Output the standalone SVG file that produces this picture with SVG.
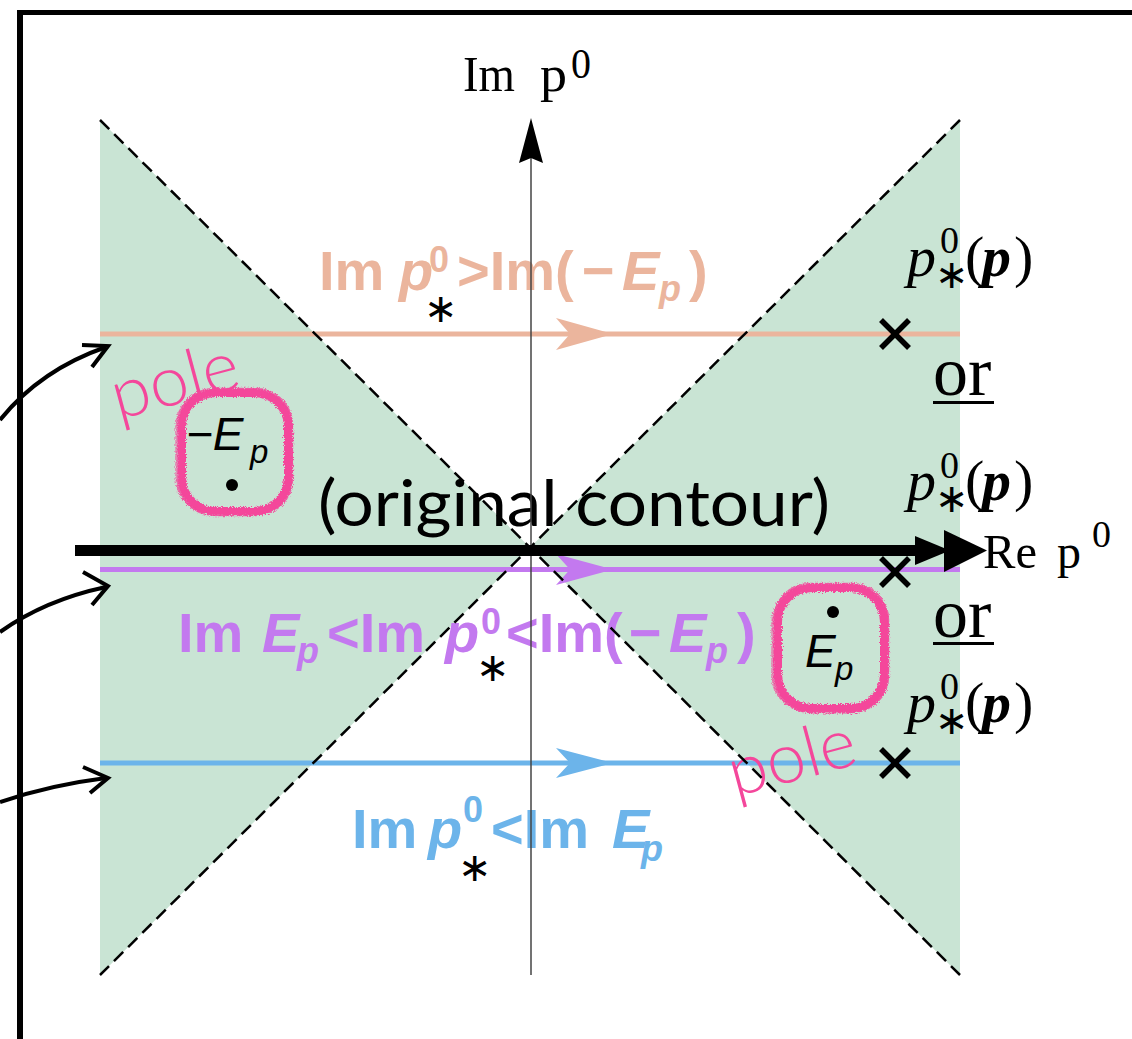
<svg xmlns="http://www.w3.org/2000/svg" width="1132" height="1039" viewBox="0 0 1132 1039">
<defs>
<style>
.serif{font-family:"Liberation Serif","Times New Roman",serif;fill:#000}
.lab{font-family:"Liberation Sans",Arial,sans-serif;font-weight:bold;font-size:56px}
.sup{font-family:"Liberation Sans",Arial,sans-serif;font-weight:bold;font-size:36px}
.it{font-style:italic}
.peach{fill:#ebb59d}
.purple{fill:#c379ef}
.blue{fill:#6cb4ea}
.ast{font-family:"DejaVu Sans",sans-serif;font-size:40px;fill:#000}
.human{font-family:Lato,"Open Sans",sans-serif}
.pole{font-family:Lato,"Open Sans",sans-serif;font-weight:300;font-size:70px;fill:#f4479b}
.dash{stroke:#000;stroke-width:2.5;stroke-dasharray:13 7;fill:none}
.cross{stroke:#000;stroke-width:5.5;stroke-linecap:butt}
.conn{stroke:#000;stroke-width:4;fill:none}
.ep{font-family:"Liberation Sans",Arial,sans-serif;font-style:italic;fill:#000}
</style>
<filter id="rough" x="-10%" y="-10%" width="120%" height="120%">
<feTurbulence type="fractalNoise" baseFrequency="0.9" numOctaves="2" seed="3" result="n"/>
<feDisplacementMap in="SourceGraphic" in2="n" scale="5" xChannelSelector="R" yChannelSelector="G"/>
</filter>
</defs>
<rect width="1132" height="1039" fill="#fff"/>
<!-- frame -->
<rect x="17" y="10" width="1115" height="5" fill="#000"/>
<rect x="17" y="10" width="6" height="1029" fill="#000"/>

<!-- shaded regions -->
<g id="regions">
<polygon points="100,120 530,547.5 100,975" fill="#c9e4d4"/>
<polygon points="960,120 530,547.5 960,975" fill="#c9e4d4"/>
</g>

<!-- contour lines -->
<g id="contours">
<line x1="100" y1="334" x2="960" y2="334" stroke="#ebb59d" stroke-width="5"/>
<path d="M556,318 L613,334 L556,350 L570,334 Z" fill="#ebb59d"/>
<line x1="100" y1="569.5" x2="960" y2="569.5" stroke="#c379ef" stroke-width="5"/>
<path d="M556,554 L613,569.5 L556,585 L570,569.5 Z" fill="#c379ef"/>
<line x1="100" y1="763" x2="960" y2="763" stroke="#6cb4ea" stroke-width="5"/>
<path d="M556,748 L613,763 L556,778 L570,763 Z" fill="#6cb4ea"/>
</g>

<!-- labels -->
<g id="label-peach">
<text class="lab peach" y="290"><tspan x="319">Im</tspan><tspan x="399" class="it">p</tspan><tspan x="457">&gt;Im(</tspan><tspan x="582">−</tspan><tspan x="622" class="it">E</tspan></text>
<text class="sup peach" x="429" y="272">0</text>
<text class="sup peach it" x="659" y="301">p</text>
<text class="lab peach" x="689" y="290">)</text>
<text class="ast" x="424" y="322">∗</text>
</g>
<g id="label-purple">
<text class="lab purple" y="652"><tspan x="178">Im</tspan><tspan x="262" class="it">E</tspan><tspan x="327">&lt;Im</tspan><tspan x="445" class="it">p</tspan><tspan x="506">&lt;Im(</tspan><tspan x="629">−</tspan><tspan x="669" class="it">E</tspan><tspan x="737">)</tspan></text>
<text class="sup purple it" x="297" y="663">p</text>
<text class="sup purple" x="481" y="634">0</text>
<text class="sup purple it" x="706" y="663">p</text>
<text class="ast" x="476" y="681">∗</text>
</g>
<g id="label-blue">
<text class="lab blue" y="848"><tspan x="352">Im</tspan><tspan x="428" class="it">p</tspan><tspan x="491">&lt;Im</tspan><tspan x="612" class="it">E</tspan></text>
<text class="sup blue" x="463" y="822">0</text>
<text class="sup blue it" x="641" y="861">p</text>
<text class="ast" x="458" y="881">∗</text>
</g>

<g id="label-original">
<text class="human" x="318" y="526" font-size="64" textLength="512" lengthAdjust="spacingAndGlyphs" fill="#000">(original contour)</text>
</g>

<!-- poles -->
<g id="pole-minus-E">
<g filter="url(#rough)" fill="none" stroke="#f4479b">
<rect x="182" y="393" width="106" height="118" rx="33" stroke-width="8"/>
<rect x="178" y="389" width="114" height="126" rx="36" stroke-width="2.5" opacity="0.8"/>
<rect x="185" y="396" width="100" height="112" rx="31" stroke-width="2" opacity="0.7"/>
<rect x="180" y="390" width="111" height="124" rx="39" stroke-width="3" opacity="0.7"/>
<rect x="176" y="391" width="116" height="122" rx="35" stroke-width="1.5" opacity="0.6"/>
</g>
<text class="ep" x="186" y="450" font-size="46">−E</text>
<text class="ep" x="250" y="463" font-size="33">p</text>
<circle cx="232" cy="485" r="6" fill="#000"/>
<text class="pole" transform="translate(118,420) rotate(-15)">pole</text>
</g>
<g id="pole-E">
<g filter="url(#rough)" fill="none" stroke="#f4479b">
<rect x="778" y="588" width="106" height="120" rx="33" stroke-width="8"/>
<rect x="774" y="584" width="114" height="128" rx="36" stroke-width="2.5" opacity="0.8"/>
<rect x="781" y="591" width="100" height="114" rx="31" stroke-width="2" opacity="0.7"/>
<rect x="776" y="585" width="111" height="127" rx="39" stroke-width="3" opacity="0.7"/>
<rect x="772" y="587" width="116" height="124" rx="35" stroke-width="1.5" opacity="0.6"/>
</g>
<text class="ep" x="805" y="667" font-size="46">E</text>
<text class="ep" x="835" y="680" font-size="33">p</text>
<circle cx="833" cy="612" r="6" fill="#000"/>
<text class="pole" transform="translate(735,797) rotate(-15)">pole</text>
</g>

<!-- boundary dashed lines -->
<g id="boundaries">
<line class="dash" x1="100" y1="120" x2="960" y2="975"/>
<line class="dash" x1="960" y1="120" x2="100" y2="975"/>
</g>

<!-- axes -->
<g id="axis-im">
<line x1="531" y1="975" x2="531" y2="158" stroke="#444" stroke-width="1.5"/>
<path d="M531,118 L543,163 L531,158 L519,163 Z" fill="#000"/>
<text class="serif" y="91" font-size="50"><tspan x="463" textLength="52" lengthAdjust="spacingAndGlyphs">Im</tspan><tspan x="540" textLength="27" lengthAdjust="spacingAndGlyphs">p</tspan></text>
<text class="serif" x="571" y="78" font-size="42" textLength="20" lengthAdjust="spacingAndGlyphs">0</text>
</g>
<g id="axis-re">
<line x1="75" y1="550.5" x2="930" y2="550.5" stroke="#000" stroke-width="11"/>
<path d="M915,536 L950,550.5 L915,565 Z" fill="#000"/>
<path d="M944,530 L987,550.5 L944,572 Z" fill="#000"/>
<text class="serif" y="568" font-size="48"><tspan x="983" textLength="54" lengthAdjust="spacingAndGlyphs">Re</tspan><tspan x="1057">p</tspan></text>
<text class="serif" x="1092" y="547" font-size="38">0</text>
</g>

<!-- p*0(p) markers -->
<g id="pstar-1">
<line class="cross" x1="881" y1="320" x2="909" y2="348"/><line class="cross" x1="909" y1="320" x2="881" y2="348"/>
<text class="serif" y="276" font-size="58"><tspan x="907" font-style="italic">p</tspan><tspan x="965">(</tspan><tspan x="982" font-weight="bold" font-style="italic">p</tspan><tspan x="1014">)</tspan></text>
<text class="serif" x="940" y="253" font-size="38">0</text>
<text class="ast" x="935" y="288" font-size="26">∗</text>
</g>
<g id="or-1">
<text class="serif" x="933" y="395" font-size="70">or</text>
<rect x="933" y="401" width="61" height="3" fill="#000"/>
</g>
<g id="pstar-2">
<line class="cross" x1="881" y1="558" x2="909" y2="586"/><line class="cross" x1="909" y1="558" x2="881" y2="586"/>
<text class="serif" y="500" font-size="58"><tspan x="907" font-style="italic">p</tspan><tspan x="965">(</tspan><tspan x="982" font-weight="bold" font-style="italic">p</tspan><tspan x="1014">)</tspan></text>
<text class="serif" x="940" y="478" font-size="38">0</text>
<text class="ast" x="935" y="512" font-size="26">∗</text>
</g>
<g id="or-2">
<text class="serif" x="933" y="637" font-size="70">or</text>
<rect x="933" y="642" width="61" height="3" fill="#000"/>
</g>
<g id="pstar-3">
<line class="cross" x1="881" y1="749" x2="909" y2="777"/><line class="cross" x1="909" y1="749" x2="881" y2="777"/>
<text class="serif" y="722" font-size="58"><tspan x="907" font-style="italic">p</tspan><tspan x="965">(</tspan><tspan x="982" font-weight="bold" font-style="italic">p</tspan><tspan x="1014">)</tspan></text>
<text class="serif" x="940" y="699" font-size="38">0</text>
<text class="ast" x="935" y="734" font-size="26">∗</text>
</g>

<!-- connectors -->
<g id="connectors">
<path class="conn" d="M0,420 Q40,370 106,347"/>
<path class="conn" d="M82,345 L108,346 L92,367"/>
<path class="conn" d="M0,632 Q45,600 106,587"/>
<path class="conn" d="M83,572 L108,586 L92,605"/>
<path class="conn" d="M0,802 Q50,785 106,778"/>
<path class="conn" d="M83,767 L108,778 L90,793"/>
</g>
</svg>
